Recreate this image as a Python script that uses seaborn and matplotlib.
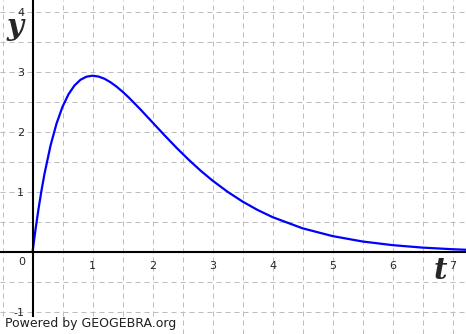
import matplotlib
matplotlib.use("Agg")
import matplotlib.pyplot as plt
from matplotlib.ticker import MultipleLocator, FixedLocator
from matplotlib.patches import Rectangle
import seaborn as sns
import pandas as pd

# Values
t_values = [0, 0.025, 0.05, 0.1, 0.15, 0.2, 0.3, 0.4, 0.5, 0.6, 0.7, 0.8, 0.9, 1.0,
            1.1, 1.2, 1.3, 1.4, 1.5, 1.6, 1.8, 2.0, 2.2, 2.4, 2.6, 2.8, 3.0,
            3.25, 3.5, 3.75, 4.0, 4.5, 5.0, 5.5, 6.0, 6.5, 7.0, 7.3]
y_values = [0, 0.195, 0.38, 0.724, 1.033, 1.31, 1.778, 2.145, 2.426, 2.634, 2.781, 2.876, 2.927, 2.943,
            2.929, 2.892, 2.834, 2.762, 2.677, 2.584, 2.380, 2.165, 1.950, 1.742, 1.545, 1.362, 1.195,
            1.009, 0.846, 0.706, 0.586, 0.400, 0.270, 0.180, 0.119, 0.078, 0.051, 0.039]
x_ticks = [1, 2, 3, 4, 5, 6, 7]
x_tick_labels = ["1", "2", "3", "4", "5", "6", "7"]
y_ticks = [-1, 1, 2, 3, 4]
y_tick_labels = ["-1", "1", "2", "3", "4"]

df = pd.DataFrame({"t": t_values, "y": y_values})

sns.set_style("white")
fig = plt.figure(figsize=(4.66, 3.34), dpi=100)
ax = fig.add_axes([0, 0, 1, 1])
ax.set_xlim(-0.542, 7.225)
ax.set_ylim(-1.362, 4.205)

grid_kw = dict(color="#bdbdbd", lw=0.72, ls=(0, (5, 4)))
ax.xaxis.set_major_locator(FixedLocator(x_ticks))
ax.yaxis.set_major_locator(FixedLocator(y_ticks))
ax.xaxis.set_minor_locator(MultipleLocator(0.5))
ax.yaxis.set_minor_locator(MultipleLocator(0.5))
ax.grid(which="both", **grid_kw)
ax.set_axisbelow(True)

sns.lineplot(data=df, x="t", y="y", color="#0000ff", lw=1.6, ax=ax, sort=True)
ax.set_xlabel("")
ax.set_ylabel("")

ax.set_xticks(x_ticks)
ax.set_xticklabels(x_tick_labels)
ax.set_yticks(y_ticks)
ax.set_yticklabels(y_tick_labels)

for s in ["top", "right"]:
    ax.spines[s].set_visible(False)
ax.spines["left"].set_position(("data", 0))
ax.spines["bottom"].set_position(("data", 0))
for s in ["left", "bottom"]:
    ax.spines[s].set_linewidth(1.5)
    ax.spines[s].set_color("black")
    ax.spines[s].set_zorder(3)

ax.tick_params(which="major", direction="out", length=3, width=1.5, color="black",
               labelsize=8, pad=3)
ax.tick_params(which="minor", length=0)

ax.text(-0.175, -0.16, "0", fontsize=8, ha="center", va="center")

ax.text(-0.29, 3.76, "y", fontsize=21, family="DejaVu Serif", style="italic",
        weight="bold", ha="center", va="center")
ax.text(6.8, -0.31, "t", fontsize=21, family="DejaVu Serif", style="italic",
        weight="bold", ha="center", va="center")

fig.patches.append(Rectangle((0, 0), 178 / 466, 17 / 334, transform=fig.transFigure,
                             facecolor="white", edgecolor="none", zorder=5))
fig.text(5 / 466, 1 - 324 / 334, "Powered by GEOGEBRA.org", fontsize=9,
         ha="left", va="center", color="#202020", zorder=6)

fig.savefig("out.png", dpi=100)
